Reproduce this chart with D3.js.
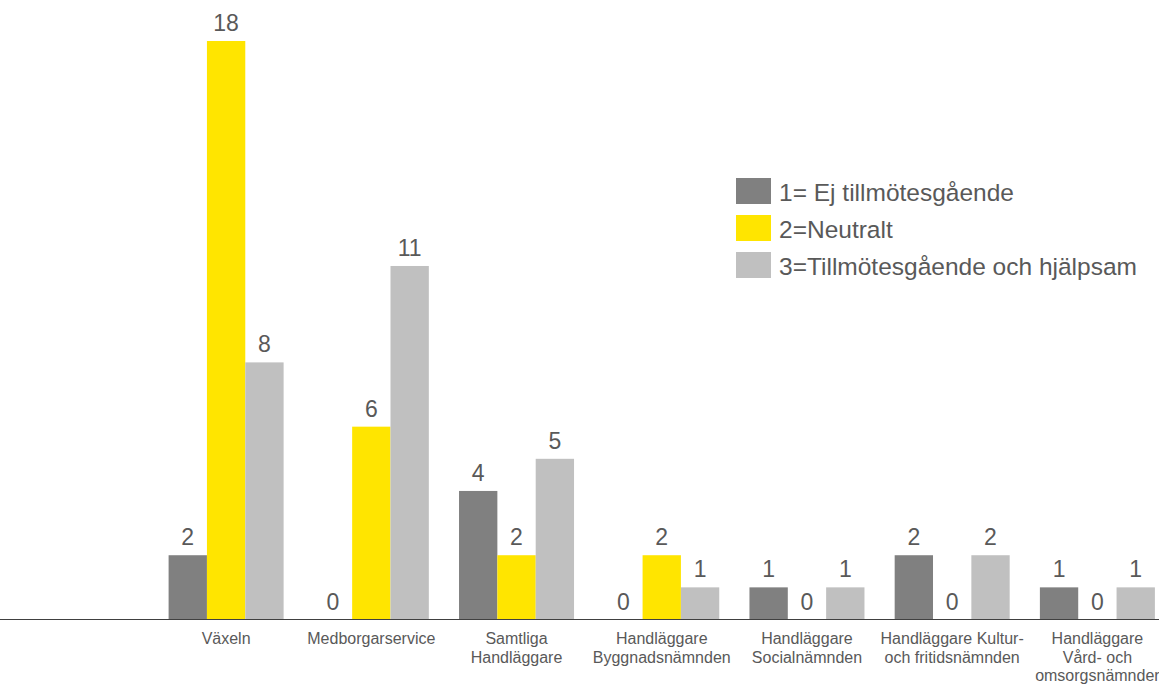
<!DOCTYPE html>
<html>
<head>
<meta charset="utf-8">
<script src="https://cdn.jsdelivr.net/npm/d3@7"></script>
<style>
  body { margin: 0; background: #fff; }
  text { font-family: "Liberation Sans", Arial, sans-serif; }
</style>
</head>
<body>
<svg id="chart"></svg>
<script>
// data
var categories = [
  ["Växeln"],
  ["Medborgarservice"],
  ["Samtliga", "Handläggare"],
  ["Handläggare", "Byggnadsnämnden"],
  ["Handläggare", "Socialnämnden"],
  ["Handläggare Kultur-", "och fritidsnämnden"],
  ["Handläggare", "Vård- och", "omsorgsnämnder"]
];
var seriesNames = ["1= Ej tillmötesgående", "2=Neutralt", "3=Tillmötesgående och hjälpsam"];
var ejTillmotesgaende = [2, 0, 4, 0, 1, 2, 1];
var neutralt = [18, 6, 2, 2, 0, 0, 0];
var tillmotesgaende = [8, 11, 5, 1, 1, 2, 1];
var colors = ["#808080", "#ffe500", "#c0c0c0"];

var full_width = 1159, full_height = 684;
var series = [ejTillmotesgaende, neutralt, tillmotesgaende];

var svg = d3.select("#chart")
    .attr("width", full_width)
    .attr("height", full_height);

var baseY = 619.5;

var x0 = d3.scaleBand()
    .domain(d3.range(categories.length))
    .range([153.5, 1170])
    .paddingInner(0.208)
    .paddingOuter(0.104);

var x1 = d3.scaleBand()
    .domain(d3.range(series.length))
    .range([0, x0.bandwidth()]);

var y = d3.scaleLinear()
    .domain([0, 18])
    .range([baseY, 41]);

// bars
var groups = svg.append("g").selectAll("g")
    .data(categories)
    .enter().append("g")
    .attr("transform", function(d, i) { return "translate(" + x0(i) + ",0)"; });

groups.selectAll("rect")
    .data(function(d, i) { return series.map(function(s, j) { return {s: j, v: s[i]}; }); })
    .enter().append("rect")
    .attr("x", function(d) { return x1(d.s); })
    .attr("width", x1.bandwidth())
    .attr("y", function(d) { return y(d.v); })
    .attr("height", function(d) { return baseY - y(d.v); })
    .attr("fill", function(d) { return colors[d.s]; });

groups.selectAll("text.val")
    .data(function(d, i) { return series.map(function(s, j) { return {s: j, v: s[i]}; }); })
    .enter().append("text")
    .attr("class", "val")
    .attr("x", function(d) { return x1(d.s) + x1.bandwidth() / 2; })
    .attr("y", function(d) { return y(d.v) - 10; })
    .attr("text-anchor", "middle")
    .attr("font-size", 23)
    .attr("fill", "#595959")
    .text(function(d) { return d.v; });

// axis line
svg.append("line")
    .attr("x1", 0).attr("x2", full_width)
    .attr("y1", baseY).attr("y2", baseY)
    .attr("stroke", "#404040")
    .attr("stroke-width", 1);

// category labels
var cat = svg.append("g").selectAll("text")
    .data(categories)
    .enter().append("text")
    .attr("x", function(d, i) { return x0(i) + x0.bandwidth() / 2; })
    .attr("y", 644)
    .attr("text-anchor", "middle")
    .attr("font-size", 16)
    .attr("fill", "#595959");

cat.selectAll("tspan")
    .data(function(d) { return d; })
    .enter().append("tspan")
    .attr("x", function() { return d3.select(this.parentNode).attr("x"); })
    .attr("dy", function(d, i) { return i === 0 ? 0 : 18.5; })
    .text(function(d) { return d; });

// legend
var legend = svg.append("g")
    .attr("transform", "translate(736,178)")
    .selectAll("g")
    .data(seriesNames)
    .enter().append("g")
    .attr("transform", function(d, i) { return "translate(0," + i * 37 + ")"; });

legend.append("rect")
    .attr("width", 35)
    .attr("height", 26)
    .attr("fill", function(d, i) { return colors[i]; });

legend.append("text")
    .attr("x", 43)
    .attr("y", 14)
    .attr("dy", "0.35em")
    .attr("font-size", 24.5)
    .attr("fill", "#595959")
    .text(function(d) { return d; });
</script>
</body>
</html>
